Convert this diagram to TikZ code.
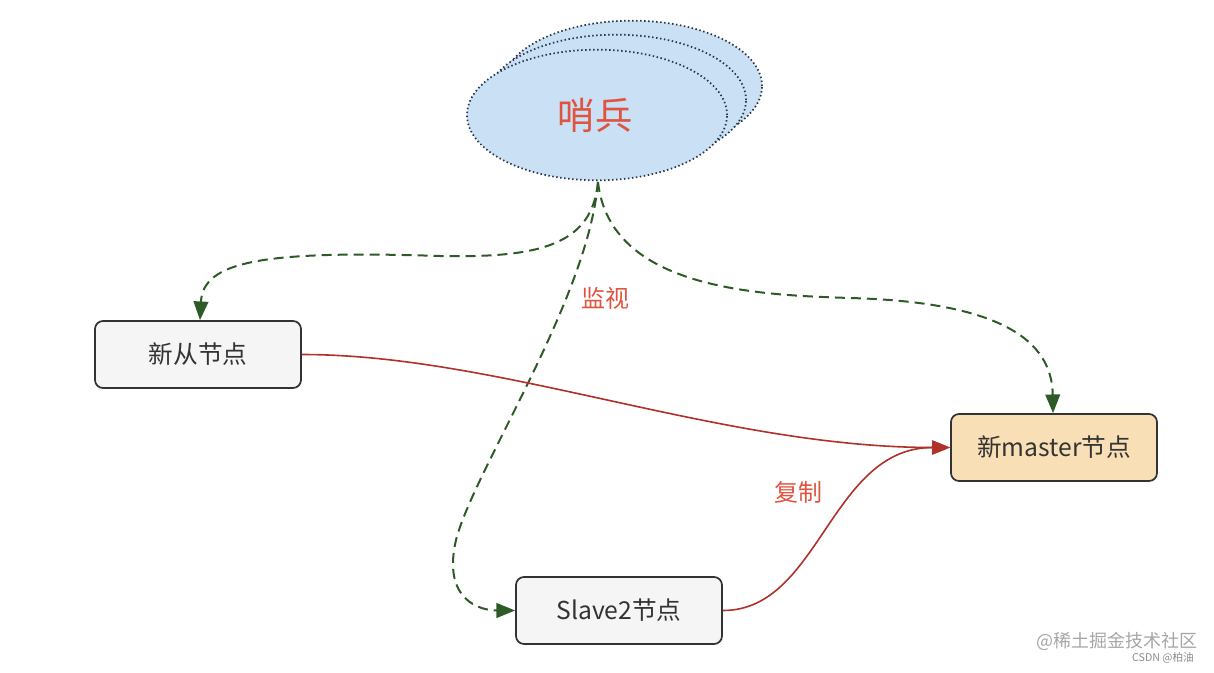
\documentclass[tikz,border=0pt]{standalone}
\usepackage{fontspec}
\setmainfont{Noto Sans CJK SC}
\usetikzlibrary{arrows.meta,shapes.geometric}
\definecolor{sentfill}{HTML}{C9E0F5}
\definecolor{sentdraw}{HTML}{2A3548}
\definecolor{redtxt}{HTML}{E0533F}
\definecolor{greenln}{HTML}{2E5A28}
\definecolor{redln}{HTML}{B0302A}
\definecolor{boxgray}{HTML}{F5F5F5}
\definecolor{boxorange}{HTML}{F9DFB5}
\definecolor{boxdraw}{HTML}{333333}
\tikzset{
  sentinel/.style={ellipse, draw=sentdraw, fill=sentfill, line width=1.3pt,
    dash pattern=on 1.1pt off 1.9pt, minimum width=195pt, minimum height=98pt, inner sep=0pt},
  nodebox/.style={rectangle, rounded corners=6pt, draw=boxdraw, line width=1.3pt,
    fill=boxgray, minimum width=154.5pt, minimum height=50.25pt, inner sep=0pt,
    font=\fontsize{18.5pt}{22pt}\selectfont, text=black!80},
  watch/.style={draw=greenln, line width=1.5pt, dash pattern=on 7.5pt off 4.5pt,
    -{Triangle[length=14pt,width=11pt]}},
  repl/.style={draw=redln, line width=1.2pt, -{Triangle[length=13.5pt,width=10.5pt]}},
  lbl/.style={text=redtxt, font=\fontsize{18pt}{22pt}\selectfont, inner sep=0pt}
}
\begin{document}
\begin{tikzpicture}[x=0.75pt,y=-0.75pt]
\useasboundingbox (0,0) rectangle (1214,672);
% sentinel stack
\node[sentinel] (s3) at (632,86) {};
\node[sentinel] (s2) at (616,100) {};
\node[sentinel] (s1) at (597,115) {};
\node[text=redtxt, font=\fontsize{28pt}{32pt}\selectfont] (stxt) at (595,115) {哨兵};
% boxes
\node[nodebox] (newslave) at (198,354.5) {新从节点};
\node[nodebox, fill=boxorange] (master) at (1054,447.5) {新master节点};
\node[nodebox] (slave2) at (619,610.5) {Slave2节点};
% watch arrows
\coordinate (sbot) at (598,182);
\draw[watch] (sbot) .. controls (592,245) and (540,258) .. (440,256)
  .. controls (260,250) and (203,262) .. (newslave.north -| 200,0);
\draw[watch] (sbot) .. controls (610,290) and (760,295) .. (850,298)
  .. controls (1000,302) and (1052,340) .. (master.north -| 1053,0);
\draw[watch] (sbot) .. controls (588,300) and (474,470) .. (456,540)
  .. controls (442,600) and (480,610.5) .. (slave2.west);
% replication
\draw[repl] (newslave.east) .. controls (500,354.5) and (720,447.5) .. (master.west);
\draw[repl] (slave2.east) .. controls (820,610.5) and (830,447.5) .. (master.west);
% labels
\node[lbl] (lwatch) at (605,298) {监视};
\node[lbl] (lrepl) at (798,492) {复制};
% watermark
\node[text=black!35, font=\fontsize{13.5pt}{16pt}\selectfont, inner sep=0pt] (wm1) at (1117,641) {@稀土掘金技术社区};
\node[text=black!45, font=\fontsize{8pt}{10pt}\selectfont, inner sep=0pt] (wm2) at (1163,658) {CSDN @柏油};
\end{tikzpicture}
\end{document}
